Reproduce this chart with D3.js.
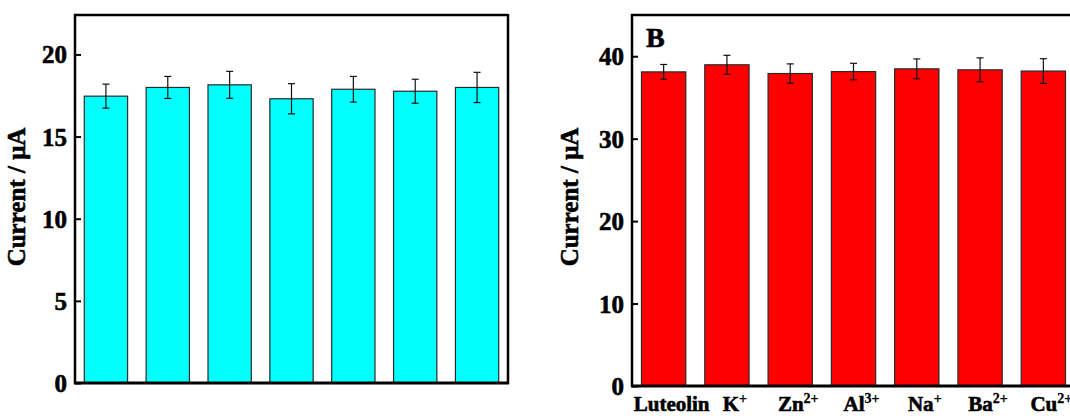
<!DOCTYPE html>
<html>
<head>
<meta charset="utf-8">
<script src="https://cdn.jsdelivr.net/npm/d3@7"></script>
<style>
  body { margin: 0; background: #fff; }
  svg text { font-family: "Liberation Serif", "Times New Roman", serif; font-weight: bold;
             fill: #000; stroke: #000; stroke-width: 0.6px; }
</style>
</head>
<body>
<svg id="chart" width="1070" height="416"></svg>
<script>
// data
var ionNames  = ["Luteolin", "K", "Zn", "Al", "Na", "Ba", "Cu"];
var ionCharge = ["", "+", "2+", "3+", "+", "2+", "2+"];

var leftValues  = [17.46, 17.99, 18.15, 17.30, 17.88, 17.76, 17.99];
var leftErrors  = [0.73, 0.67, 0.82, 0.92, 0.78, 0.73, 0.92];
var leftTicks   = [0, 5, 10, 15, 20];

var rightValues = [38.1, 38.96, 37.9, 38.14, 38.47, 38.35, 38.2];
var rightErrors = [0.9, 1.15, 1.17, 1.0, 1.2, 1.45, 1.5];
var rightTicks  = [0, 10, 20, 30, 40];

var svg = d3.select("#chart");

function drawPanel(opt) {
  var g = svg.append("g").attr("transform", "translate(" + opt.left + "," + opt.top + ")");
  var w = opt.width, h = opt.height;

  var x = d3.scaleBand()
      .domain(d3.range(opt.values.length))
      .range([0, w])
      .paddingInner(0.3)
      .paddingOuter(0.15);
  var y = d3.scaleLinear().domain(opt.domain).range([h, 0]);

  // bars
  g.append("g").selectAll("rect")
    .data(opt.values)
    .enter().append("rect")
      .attr("x", function(d, i) { return x(i); })
      .attr("y", function(d) { return y(d); })
      .attr("width", x.bandwidth())
      .attr("height", function(d) { return h - y(d); })
      .style("fill", opt.color)
      .style("stroke", "#2a2a2a")
      .style("stroke-width", 1.2);

  // error bars
  var eb = g.append("g").selectAll("g")
    .data(opt.values)
    .enter().append("g")
      .attr("transform", function(d, i) { return "translate(" + (x(i) + x.bandwidth() / 2) + ",0)"; });
  eb.append("line")
      .attr("y1", function(d, i) { return y(d + opt.errors[i]); })
      .attr("y2", function(d, i) { return y(d - opt.errors[i]); })
      .style("stroke", "#111").style("stroke-width", 1.2);
  eb.append("line")
      .attr("x1", -3.5).attr("x2", 3.5)
      .attr("y1", function(d, i) { return y(d + opt.errors[i]); })
      .attr("y2", function(d, i) { return y(d + opt.errors[i]); })
      .style("stroke", "#111").style("stroke-width", 1.2);
  eb.append("line")
      .attr("x1", -3.5).attr("x2", 3.5)
      .attr("y1", function(d, i) { return y(d - opt.errors[i]); })
      .attr("y2", function(d, i) { return y(d - opt.errors[i]); })
      .style("stroke", "#111").style("stroke-width", 1.2);

  // y axis, ticks pointing inward
  var ax = g.append("g")
      .call(d3.axisLeft(y).tickValues(opt.ticks).tickSize(-6).tickPadding(8));
  ax.attr("font-family", null).attr("font-size", null);
  ax.select(".domain").remove();
  ax.selectAll(".tick line").style("stroke", "#000").style("stroke-width", 2);
  ax.selectAll(".tick text")
      .style("font-size", "25px")
      .attr("dy", "0.34em");

  // frame
  g.append("line").attr("x1", 0).attr("x2", 0).attr("y1", -1).attr("y2", h + 1)
      .style("stroke", "#000").style("stroke-width", 2.5);
  g.append("line").attr("x1", -1).attr("x2", w).attr("y1", 0).attr("y2", 0)
      .style("stroke", "#000").style("stroke-width", 2.5);
  g.append("line").attr("x1", -1).attr("x2", w + 1).attr("y1", h).attr("y2", h)
      .style("stroke", "#000").style("stroke-width", 3);
  g.append("line").attr("x1", w).attr("x2", w).attr("y1", -1).attr("y2", h + 1)
      .style("stroke", "#000").style("stroke-width", 2.5);

  // y axis title
  g.append("text")
      .attr("transform", "translate(" + opt.titleX + "," + (197 - opt.top) + ") rotate(-90)")
      .attr("text-anchor", "middle")
      .style("font-size", "25px")
      .text("Current / μA");

  if (opt.letter) {
    g.append("text").attr("x", 14).attr("y", 32)
      .style("font-size", "28px")
      .text(opt.letter);
  }

  if (opt.labels) {
    var lab = g.append("g").selectAll("text")
      .data(ionNames)
      .enter().append("text")
        .attr("x", function(d, i) { return x(i) + x.bandwidth() / 2 + 8; })
        .attr("y", h + 25)
        .attr("text-anchor", "middle")
        .style("font-size", "21px");
    lab.append("tspan").text(function(d) { return d; });
    lab.append("tspan")
        .attr("dy", -8)
        .style("font-size", "14px")
        .style("stroke-width", "0.3px")
        .text(function(d, i) { return ionCharge[i]; });
  }
}

drawPanel({ left: 75, top: 15, width: 433, height: 368, domain: [0, 22.4],
            values: leftValues, errors: leftErrors, ticks: leftTicks,
            color: "#00ffff", titleX: -50, labels: false });

drawPanel({ left: 632, top: 15, width: 443, height: 371, domain: [0, 45],
            values: rightValues, errors: rightErrors, ticks: rightTicks,
            color: "#ff0000", titleX: -54, letter: "B", labels: true });
</script>
</body>
</html>
